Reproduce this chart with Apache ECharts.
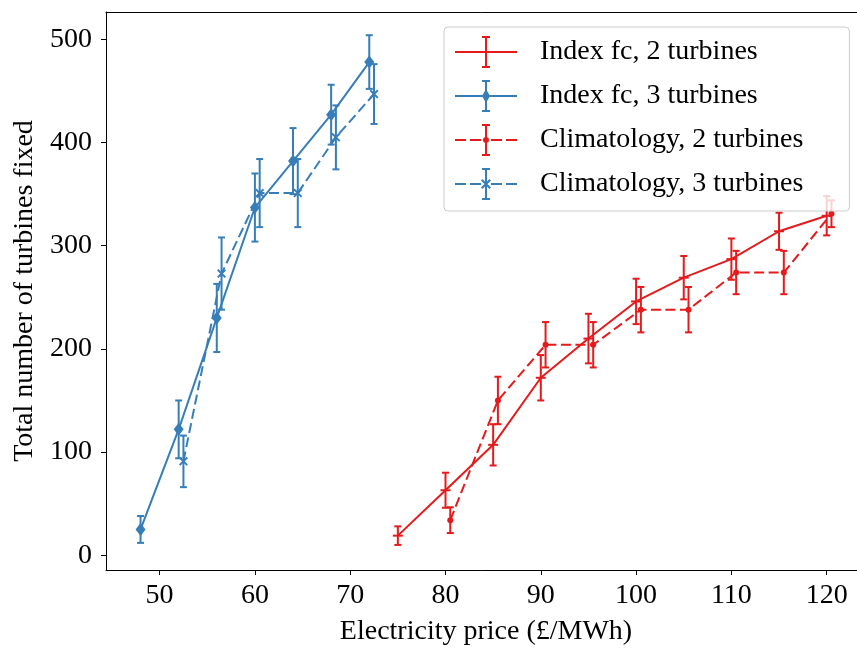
<!DOCTYPE html>
<html>
<head>
<meta charset="utf-8">
<script src="https://cdn.jsdelivr.net/npm/echarts@6/dist/echarts.min.js"></script>
<style>
html,body{margin:0;padding:0;background:#fff;}
#chart{width:857px;height:648px;}
</style>
</head>
<body>
<div id="chart"></div>
<script>
// ---- data ----
const seriesNames = ['Index fc, 2 turbines', 'Index fc, 3 turbines', 'Climatology, 2 turbines', 'Climatology, 3 turbines'];

const redSolidX   = [75, 80, 85, 90, 95, 100, 105, 110, 115, 120];
const redSolidY   = [19, 63, 107, 172, 210, 246, 269, 287, 314, 329];
const redSolidErr = [9, 17, 20, 22, 24, 22, 21, 20, 18, 19];

const blueSolidX   = [48, 52, 56, 60, 64, 68, 72];
const blueSolidY   = [25, 122, 230, 337, 382, 427, 478];
const blueSolidErr = [13, 28, 33, 33, 32, 29, 26];

const redDashX   = [80.5, 85.5, 90.5, 95.5, 100.5, 105.5, 110.5, 115.5, 120.5];
const redDashY   = [34, 150, 204, 204, 238, 238, 274, 274, 331];
const redDashErr = [12.5, 23, 22, 22, 22, 22, 21, 21, 13];

const blueDashX   = [52.5, 56.5, 60.5, 64.5, 68.5, 72.5];
const blueDashY   = [91, 273, 351, 351, 405, 447];
const blueDashErr = [25, 35, 33, 33, 31, 29];

const xTicks = [50, 60, 70, 80, 90, 100, 110, 120];
const yTicks = [0, 100, 200, 300, 400, 500];

const RED = '#e41a1c';
const BLUE = '#377eb8';
const FONT = 'Liberation Serif';
const X_MIN = 44.375, X_MAX = 124.125, Y_MIN = -14.3, Y_MAX = 526.5;

// ---- legend icons (62 x 32 box) ----
const barPath = 'M30 0 L32 0 L32 32 L30 32 Z M27 0 L35 0 L35 2 L27 2 Z M27 30 L35 30 L35 32 L27 32 Z';
const solidLine = 'M0 15 L62 15 L62 17 L0 17 Z';
const dashLine = 'M0 15 L11 15 L11 17 L0 17 Z M15 15 L26 15 L26 17 L15 17 Z M36 15 L47 15 L47 17 L36 17 Z M51 15 L62 15 L62 17 L51 17 Z';
const iconRedSolid = 'path://' + solidLine + ' ' + barPath;
const iconBlueSolid = 'path://' + solidLine + ' ' + barPath + ' M31 9 L35 16 L31 23 L27 16 Z';
const iconRedDash = 'path://' + dashLine + ' ' + barPath + ' M28 16 A3 3 0 1 1 34 16 A3 3 0 1 1 28 16 Z';
const iconBlueDash = 'path://' + dashLine + ' ' + barPath + ' M26 12.5 L27.5 11 L36 19.5 L34.5 21 Z M34.5 11 L36 12.5 L27.5 21 L26 19.5 Z';

const xMarker = 'path://M0 1.5 L1.5 0 L10 8.5 L8.5 10 Z M8.5 0 L10 1.5 L1.5 10 L0 8.5 Z';
const hMarker = 'path://M0 0 L10 0 L10 2 L0 2 Z';

function pairs(xs, ys) { return xs.map((x, i) => [x, ys[i]]); }
function triples(xs, ys, es) { return xs.map((x, i) => [x, ys[i], es[i]]); }

function lineSeries(name, xs, ys, color, dashed, symbol, size, z) {
  return {
    type: 'line', name: name, data: pairs(xs, ys),
    symbol: symbol, symbolSize: size, showSymbol: true,
    lineStyle: { color: color, width: 2, type: dashed ? [10, 4.5] : 'solid' },
    itemStyle: { color: color, borderWidth: 0 },
    emphasis: { disabled: true },
    animation: false, z: z
  };
}

function errSeries(name, xs, ys, es, color, z) {
  return {
    type: 'custom', name: name, data: triples(xs, ys, es),
    encode: { x: 0, y: 1 },
    renderItem: function (params, api) {
      const x = api.value(0), y = api.value(1), e = api.value(2);
      const t = api.coord([x, y + e]);
      const b = api.coord([x, y - e]);
      const hw = 3.5;
      const st = { stroke: color, lineWidth: 2 };
      return {
        type: 'group',
        children: [
          { type: 'line', shape: { x1: t[0], y1: t[1], x2: b[0], y2: b[1] }, style: st },
          { type: 'line', shape: { x1: t[0] - hw, y1: t[1], x2: t[0] + hw, y2: t[1] }, style: st },
          { type: 'line', shape: { x1: b[0] - hw, y1: b[1], x2: b[0] + hw, y2: b[1] }, style: st }
        ]
      };
    },
    silent: true, animation: false, z: z
  };
}

const chart = echarts.init(document.getElementById('chart'), null, { renderer: 'canvas' });

chart.setOption({
  backgroundColor: '#fff',
  animation: false,
  grid: {
    left: 106, top: 12, width: 760, height: 558,
    outerBoundsMode: 'none', containLabel: false, show: false
  },
  xAxis: [{
    type: 'value', min: X_MIN, max: X_MAX, position: 'bottom',
    name: 'Electricity price (£/MWh)', nameLocation: 'middle', nameGap: 48,
    nameTextStyle: { fontFamily: FONT, fontSize: 28, color: '#000' },
    axisLine: { show: true, onZero: false, lineStyle: { color: '#000', width: 1 } },
    axisTick: { show: true, length: 5, lineStyle: { color: '#000', width: 1 }, customValues: xTicks },
    axisLabel: { fontFamily: FONT, fontSize: 28, color: '#000', margin: 12, customValues: xTicks },
    splitLine: { show: false }
  }, {
    type: 'value', min: X_MIN, max: X_MAX, position: 'top',
    axisLine: { show: true, onZero: false, lineStyle: { color: '#000', width: 1 } },
    axisTick: { show: false }, axisLabel: { show: false }, splitLine: { show: false }
  }],
  yAxis: {
    type: 'value', min: Y_MIN, max: Y_MAX,
    name: 'Total number of turbines fixed', nameLocation: 'middle', nameGap: 62,
    nameTextStyle: { fontFamily: FONT, fontSize: 28, color: '#000' },
    axisLine: { show: true, onZero: false, lineStyle: { color: '#000', width: 1 } },
    axisTick: { show: true, length: 5, lineStyle: { color: '#000', width: 1 }, customValues: yTicks },
    axisLabel: { fontFamily: FONT, fontSize: 28, color: '#000', margin: 14, customValues: yTicks },
    splitLine: { show: false }
  },
  legend: {
    orient: 'vertical', left: 444, top: 27,
    padding: [9, 46, 11, 11],
    itemWidth: 62, itemHeight: 32, itemGap: 12,
    backgroundColor: 'rgba(255,255,255,0.8)',
    borderColor: '#cccccc', borderWidth: 1, borderRadius: 4,
    selectedMode: false,
    textStyle: { fontFamily: FONT, fontSize: 28, color: '#000', padding: [0, 0, 0, 18] },
    data: [
      { name: seriesNames[0], icon: iconRedSolid, itemStyle: { color: RED, borderWidth: 0 } },
      { name: seriesNames[1], icon: iconBlueSolid, itemStyle: { color: BLUE, borderWidth: 0 } },
      { name: seriesNames[2], icon: iconRedDash, itemStyle: { color: RED, borderWidth: 0 } },
      { name: seriesNames[3], icon: iconBlueDash, itemStyle: { color: BLUE, borderWidth: 0 } }
    ],
    z: 10
  },
  series: [
    errSeries('err-a', redSolidX, redSolidY, redSolidErr, RED, 2),
    lineSeries(seriesNames[0], redSolidX, redSolidY, RED, false, hMarker, [10, 2], 2),
    errSeries('err-b', blueSolidX, blueSolidY, blueSolidErr, BLUE, 3),
    lineSeries(seriesNames[1], blueSolidX, blueSolidY, BLUE, false, 'diamond', [10, 13], 3),
    errSeries('err-c', redDashX, redDashY, redDashErr, RED, 4),
    lineSeries(seriesNames[2], redDashX, redDashY, RED, true, 'circle', 6, 4),
    errSeries('err-d', blueDashX, blueDashY, blueDashErr, BLUE, 5),
    lineSeries(seriesNames[3], blueDashX, blueDashY, BLUE, true, xMarker, [9, 9], 5)
  ]
});
</script>
</body>
</html>
